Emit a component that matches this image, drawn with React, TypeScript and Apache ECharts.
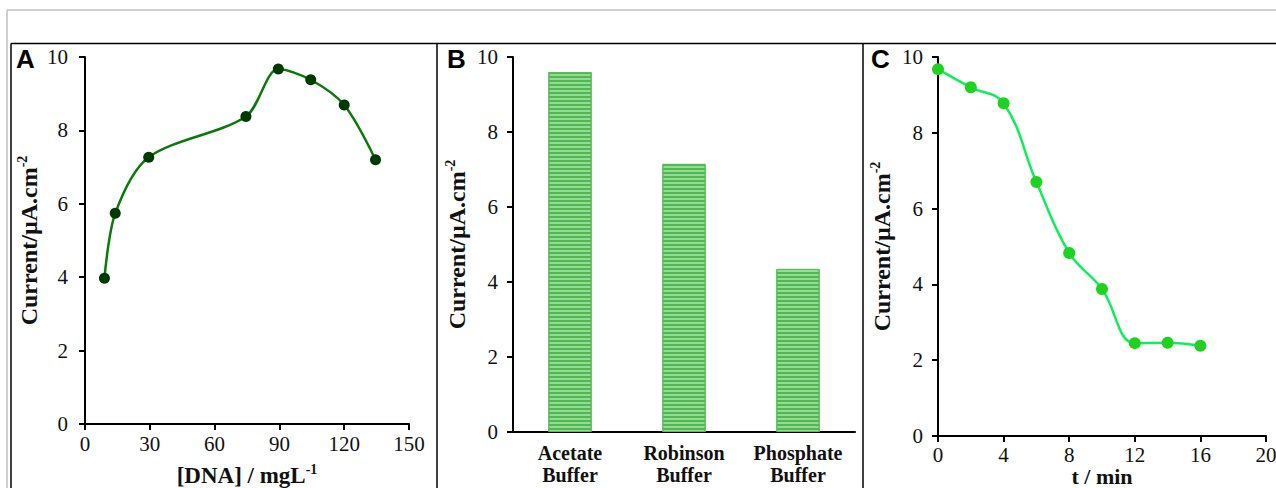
import React, { useEffect, useRef } from "react";
import * as echarts from "echarts";

// Panel A: current vs DNA concentration
const dnaConc = [9, 14, 29.5, 74.5, 89.5, 104.5, 120, 134.5];
const dnaCurrent = [3.97, 5.74, 7.27, 8.38, 9.67, 9.38, 8.69, 7.2];
// Panel B: buffers
const buffers = ["Acetate\nBuffer", "Robinson\nBuffer", "Phosphate\nBuffer"];
const bufferCurrent = [9.6, 7.15, 4.35];
// Panel C: time
const times = [0, 2, 4, 6, 8, 10, 12, 14, 16];
const timeCurrent = [9.68, 9.2, 8.78, 6.7, 4.83, 3.88, 2.45, 2.46, 2.38];
const yTicks = [0, 2, 4, 6, 8, 10];

const SERIF = "'Liberation Serif', 'Times New Roman', serif";

export default function App() {
  const ref = useRef<HTMLDivElement>(null);
  useEffect(() => {
    const chart = echarts.init(ref.current!, null, { renderer: "svg" });
    const tickLabel = { fontFamily: SERIF, fontSize: 21, color: "#111" };
    const axisLine = { show: true, lineStyle: { color: "#000", width: 2 } };
    const axisTick = { show: true, length: 6, lineStyle: { color: "#000", width: 2 } };
    const yName = "{a|Current/µA.cm}{b|-2}";
    const yNameStyle = {
      rich: {
        a: { fontFamily: SERIF, fontSize: 24, fontWeight: "bold", color: "#111", lineHeight: 28 },
        b: { fontFamily: SERIF, fontSize: 14, fontWeight: "bold", color: "#111", verticalAlign: "top", lineHeight: 28 },
      },
    };
    const mkY = (gridIndex: number, margin: number) => ({
      type: "value",
      gridIndex,
      min: yTicks[0],
      max: yTicks[yTicks.length - 1],
      interval: 2,
      splitLine: { show: false },
      axisLine,
      axisTick,
      axisLabel: { ...tickLabel, margin },
      name: yName,
      nameLocation: "middle",
      nameRotate: 90,
      nameGap: 42,
      nameTextStyle: yNameStyle,
    });
    const xNameStyle = {
      rich: {
        a: { fontFamily: SERIF, fontSize: 23, fontWeight: "bold", color: "#111", lineHeight: 26 },
        b: { fontFamily: SERIF, fontSize: 14, fontWeight: "bold", color: "#111", verticalAlign: "top", lineHeight: 26 },
      },
    };
    const frame = { stroke: "#000", lineWidth: 1.5 };
    const gray = { stroke: "#d0d0d0", lineWidth: 2 };
    const letter = (t: string, x: number) => ({
      type: "text",
      left: x,
      top: 46,
      style: { text: t, fontFamily: "'Liberation Sans', Arial, sans-serif", fontWeight: "bold", fontSize: 26, fill: "#000" },
    });
    chart.setOption({
      animation: false,
      grid: [
        { left: 85, top: 57, width: 324, height: 367, containLabel: false, outerBoundsMode: "none" },
        { left: 513, top: 57, width: 342, height: 375, containLabel: false, outerBoundsMode: "none" },
        { left: 938, top: 57, width: 328, height: 379, containLabel: false, outerBoundsMode: "none" },
      ],
      xAxis: [
        {
          type: "value", gridIndex: 0, min: 0, max: 150, interval: 30,
          splitLine: { show: false }, axisLine, axisTick,
          axisLabel: { ...tickLabel, margin: 9 },
          name: "{a|[DNA] / mgL}{b|-1}", nameLocation: "middle", nameGap: 38, nameMoveOverlap: false, nameTextStyle: xNameStyle,
        },
        {
          type: "category", gridIndex: 1, data: buffers,
          axisLine, axisTick: { show: false },
          axisLabel: { fontFamily: SERIF, fontSize: 20, fontWeight: "bold", color: "#111", lineHeight: 22, margin: 10, interval: 0 },
        },
        {
          type: "value", gridIndex: 2, min: 0, max: 20, interval: 4,
          splitLine: { show: false }, axisLine, axisTick,
          axisLabel: { ...tickLabel, lineHeight: 19, margin: 9 },
          name: "{a|t / min}", nameLocation: "middle", nameGap: 28, nameMoveOverlap: false,
          nameTextStyle: {
            rich: {
              a: { fontFamily: SERIF, fontSize: 22, fontWeight: "bold", color: "#111", lineHeight: 24 },
            },
          },
        },
      ],
      yAxis: [mkY(0, 17), mkY(1, 15), mkY(2, 15)],
      series: [
        {
          type: "line", xAxisIndex: 0, yAxisIndex: 0, smooth: 0.3,
          data: dnaConc.map((x, i) => [x, dnaCurrent[i]]),
          lineStyle: { color: "#0a7a0a", width: 2.5 },
          symbol: "circle", symbolSize: 11,
          itemStyle: { color: "#013a01" },
        },
        {
          type: "bar", xAxisIndex: 1, yAxisIndex: 1, barWidth: "38%",
          data: bufferCurrent,
          itemStyle: {
            color: "#98d898",
            borderColor: "#5cbc5c",
            borderWidth: 1,
            decal: {
              symbol: "rect",
              symbolSize: 1,
              dashArrayX: [[1, 0]],
              dashArrayY: [1.5, 1.5],
              rotation: 0,
              color: "#4fb84f",
            },
          },
        },
        {
          type: "line", xAxisIndex: 2, yAxisIndex: 2, smooth: 0.4,
          data: times.map((x, i) => [x, timeCurrent[i]]),
          lineStyle: { color: "#10ee5c", width: 2.5 },
          symbol: "circle", symbolSize: 12,
          itemStyle: { color: "#1fd21f" },
        },
      ],
      graphic: [
        { type: "line", shape: { x1: 7, y1: 10, x2: 1276, y2: 10 }, style: gray },
        { type: "line", shape: { x1: 7, y1: 10, x2: 7, y2: 488 }, style: gray },
        { type: "line", shape: { x1: 11, y1: 43.5, x2: 1276, y2: 43.5 }, style: frame },
        { type: "line", shape: { x1: 11, y1: 43.5, x2: 11, y2: 488 }, style: frame },
        { type: "line", shape: { x1: 437, y1: 43.5, x2: 437, y2: 488 }, style: frame },
        { type: "line", shape: { x1: 863, y1: 43.5, x2: 863, y2: 488 }, style: frame },
        letter("A", 16),
        letter("B", 447),
        letter("C", 871),
      ],
    });
    return () => chart.dispose();
  }, []);
  return (
    <div
      ref={ref}
      style={{ position: "fixed", left: 0, top: 0, width: 1276, height: 488, background: "#fff" }}
    />
  );
}
